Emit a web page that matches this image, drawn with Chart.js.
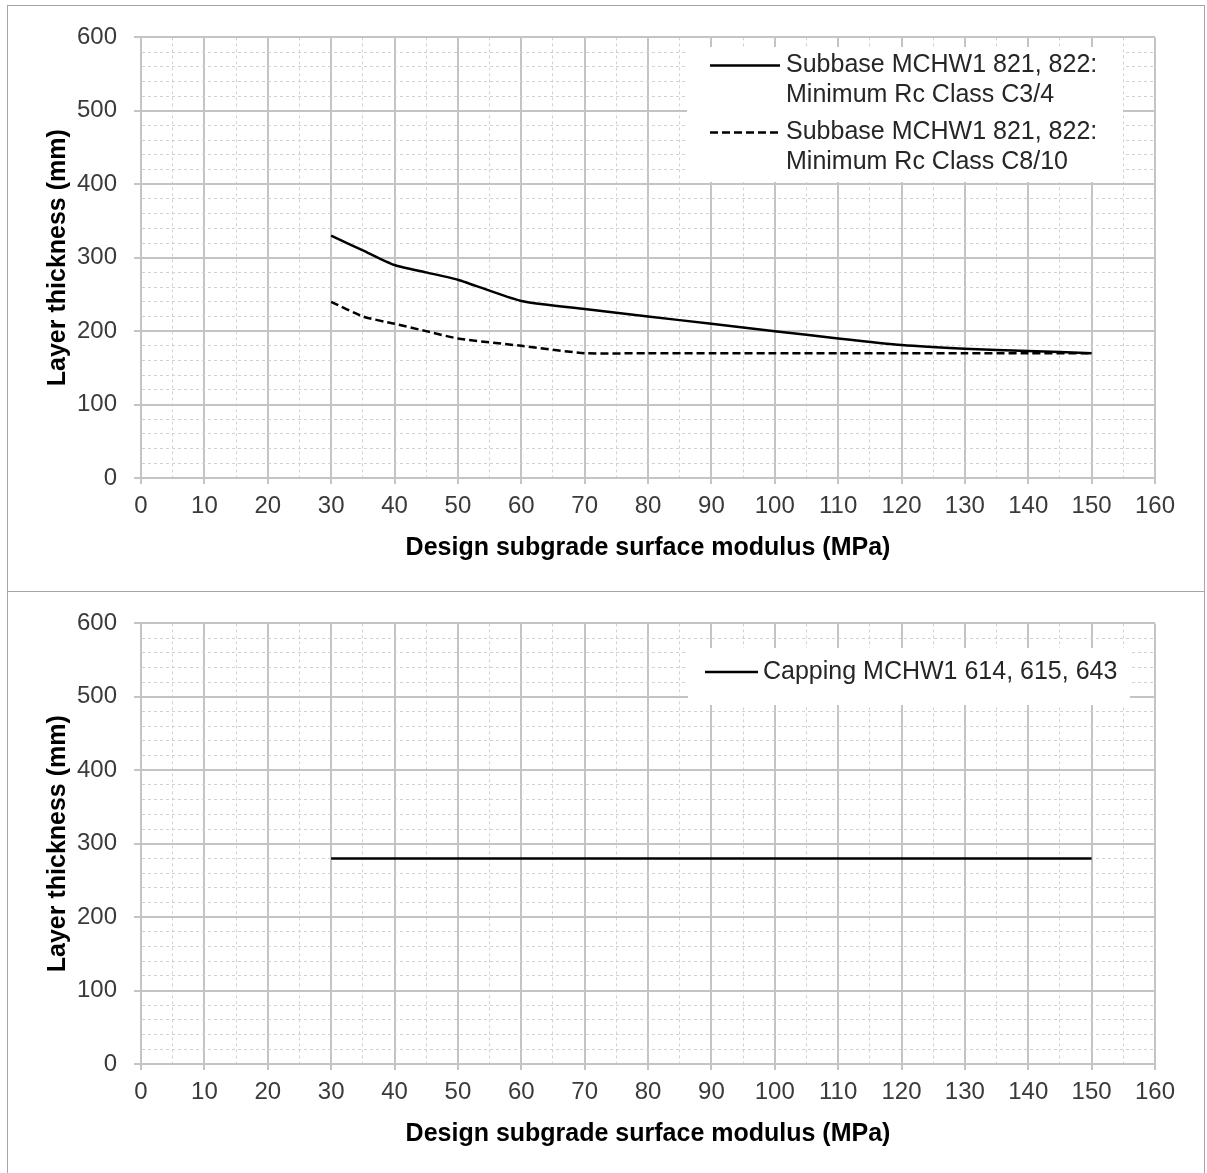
<!DOCTYPE html>
<html>
<head>
<meta charset="utf-8">
<script src="https://cdn.jsdelivr.net/npm/chart.js@4.4.1/dist/chart.umd.min.js"></script>
<style>
  body { margin: 0; background: #fff; }
  .panel { position: absolute; left: 7px; width: 1198px; height: 587px; border: 1px solid #a6a6a6; box-sizing: border-box; background: #fff; }
</style>
</head>
<body>
<div class="panel" style="top:5px"><canvas id="subbaseChart"></canvas></div>
<div class="panel" style="top:591px"><canvas id="cappingChart"></canvas></div>
<script>
// values
const modulus = [30, 35, 40, 45, 50, 60, 70, 80, 90, 100, 110, 120, 130, 140, 150];
const subbaseC34 = [330, 310, 290, 280, 270, 241, 230, 220, 210, 200, 190, 181, 176, 173, 170];
const subbaseC810 = [240, 220, 210, 200, 190, 180, 170, 170, 170, 170, 170, 170, 170, 170, 170];
const cappingModulus = [30, 150];
const cappingThickness = [280, 280];

const subbaseLabels = [
    ['Subbase MCHW1 821, 822:', 'Minimum Rc Class C3/4'],
    ['Subbase MCHW1 821, 822:', 'Minimum Rc Class C8/10']
];
const cappingLabels = [['Capping MCHW1 614, 615, 643']];

const xAxisTitle = 'Design subgrade surface modulus (MPa)';
const yAxisTitle = 'Layer thickness (mm)';
const xMax = 160, xMajor = 10, xMinor = 5;
const yMax = 600, yMajor = 100, yMinor = 20;

const FONT = '"Liberation Sans", Arial, sans-serif';
const MAJOR = '#c4c4c4';
const MINOR = '#d2d2d2';

const toPoints = (xs, ys) => xs.map((x, i) => ({ x: x, y: ys[i] }));
const isMajor = (c, step) => c.tick && Math.round(c.tick.value) % step === 0;

function axis(max, major, minor, isX) {
    return {
        type: 'linear',
        min: 0,
        max: max,
        afterFit: s => { if (isX) s.height = 89; else s.width = 102; },
        ticks: {
            stepSize: minor,
            autoSkip: false,
            maxRotation: 0,
            padding: isX ? 8 : 17,
            color: '#3a3a3a',
            font: { family: FONT, size: 24 },
            callback: v => (v % major === 0 ? v : '')
        },
        grid: {
            color: c => isMajor(c, major) ? MAJOR : MINOR,
            lineWidth: c => isMajor(c, major) ? 2 : 1,
            tickColor: c => isMajor(c, major) ? MAJOR : 'rgba(0,0,0,0)',
            tickWidth: 2,
            tickLength: isX ? 6 : 7
        },
        border: {
            color: MAJOR,
            width: 2,
            dash: c => (c.tick && !isMajor(c, major)) ? [3, 3] : []
        },
        title: {
            display: true,
            text: isX ? xAxisTitle : yAxisTitle,
            color: '#000',
            font: { family: FONT, size: 25, weight: 'bold' }
        }
    };
}

const legendBox = {
    id: 'legendBox',
    afterDatasetsDraw(chart, args, o) {
        const ctx = chart.ctx;
        ctx.save();
        ctx.fillStyle = '#fff';
        ctx.fillRect(o.box[0], o.box[1], o.box[2], o.box[3]);
        chart.data.datasets.forEach((ds, i) => {
            const y = o.rows[i];
            ctx.strokeStyle = ds.borderColor;
            ctx.lineWidth = ds.borderWidth;
            ctx.setLineDash(ds.borderDash || []);
            ctx.beginPath();
            ctx.moveTo(o.lineX[0], y);
            ctx.lineTo(o.lineX[1], y);
            ctx.stroke();
            ctx.setLineDash([]);
            ctx.fillStyle = '#262626';
            ctx.font = '25px ' + FONT;
            ctx.textBaseline = 'middle';
            o.lines[i].forEach((t, j) => ctx.fillText(t, o.textX, y + j * 30));
        });
        ctx.restore();
    }
};

function makeChart(id, datasets, legendOpts) {
    return new Chart(document.getElementById(id), {
        type: 'line',
        data: { datasets: datasets },
        options: {
            responsive: true,
            maintainAspectRatio: false,
            animation: false,
            layout: { padding: { left: 31, top: 28, right: 49, bottom: 24 } },
            elements: { point: { radius: 0 }, line: { tension: 0.2 } },
            plugins: { legend: { display: false }, tooltip: { enabled: false }, legendBox: legendOpts },
            scales: {
                x: axis(xMax, xMajor, xMinor, true),
                y: axis(yMax, yMajor, yMinor, false)
            }
        },
        plugins: [legendBox]
    });
}

makeChart('subbaseChart', [
    {
        label: subbaseLabels[0].join(' '),
        data: toPoints(modulus, subbaseC34),
        borderColor: '#000',
        borderWidth: 2.5
    },
    {
        label: subbaseLabels[1].join(' '),
        data: toPoints(modulus, subbaseC810),
        borderColor: '#000',
        borderWidth: 2.5,
        borderDash: [8, 4]
    }
], { box: [679, 41, 436, 135], lineX: [702, 772], textX: 778, rows: [59.5, 126.5], lines: subbaseLabels });

makeChart('cappingChart', [
    {
        label: cappingLabels[0].join(' '),
        data: toPoints(cappingModulus, cappingThickness),
        borderColor: '#000',
        borderWidth: 2.5
    }
], { box: [680, 56, 442, 57], lineX: [697, 750], textX: 755, rows: [80], lines: cappingLabels });
</script>
</body>
</html>
